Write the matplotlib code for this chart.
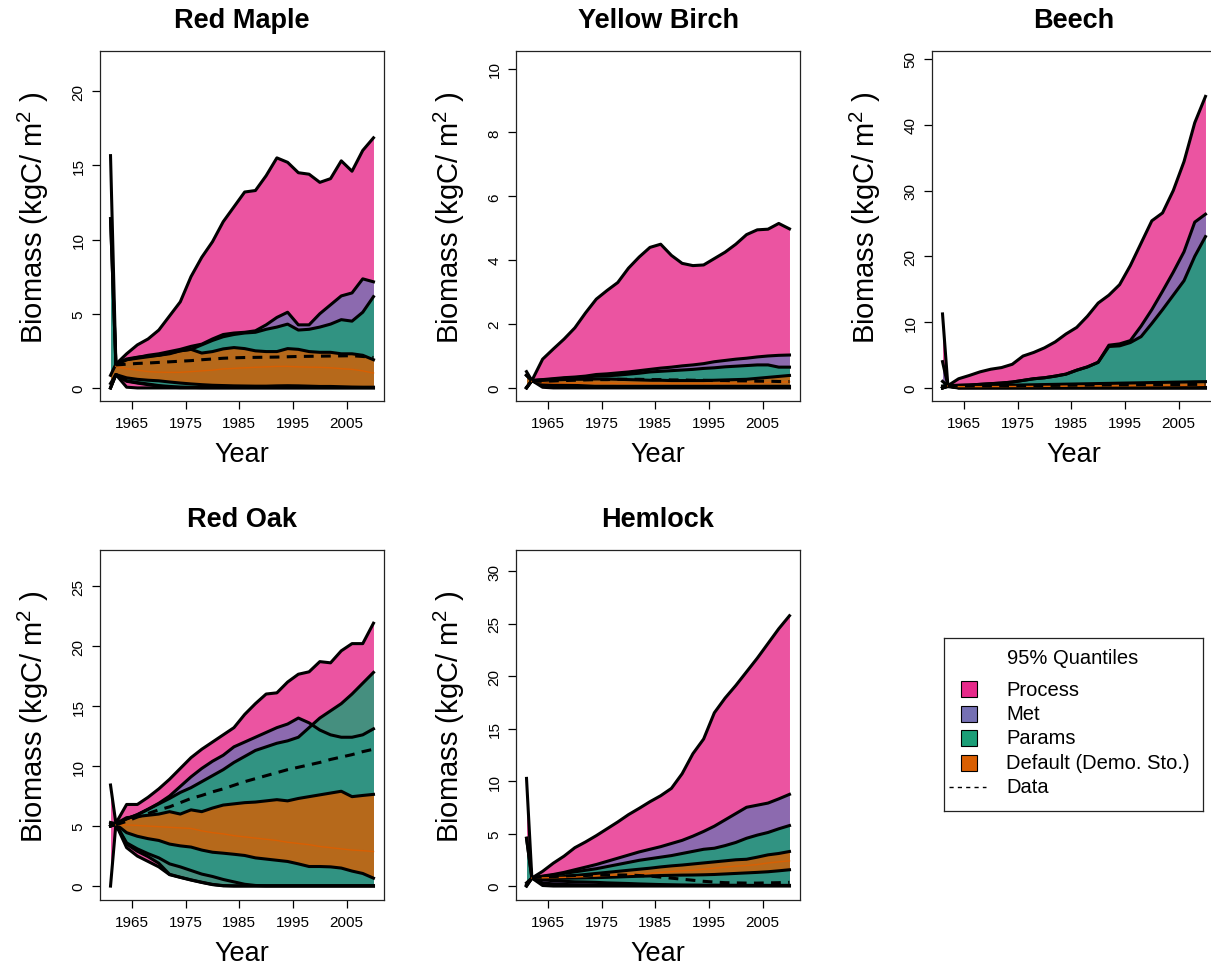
import numpy as np
import matplotlib
matplotlib.use("Agg")
import matplotlib.pyplot as plt
from matplotlib.patches import Rectangle

plt.rcParams['font.family'] = ['Liberation Sans', 'DejaVu Sans']

nan = np.nan

# sample years
years = [1961, 1962, 1964, 1966, 1968, 1970, 1972, 1974, 1976, 1978, 1980, 1982, 1984,
         1986, 1988, 1990, 1992, 1994, 1996, 1998, 2000, 2002, 2004, 2006, 2008, 2010]

# ---- Red Maple
rm_proc_hi = [15.65, 1.6, 2.3, 2.9, 3.3, 3.9, 4.85, 5.8, 7.5, 8.8, 9.85, 11.2, 12.2,
              13.2, 13.3, 14.3, 15.5, 15.2, 14.5, 14.4, 13.85, 14.1, 15.3, 14.6, 16.0, 16.85]
rm_proc_lo = [0.0, 0.9, 0.05, 0, 0, 0, 0, 0, 0, 0, 0, 0, 0,
              0, 0, 0, 0, 0, 0, 0, 0, 0, 0, 0, 0, 0]
rm_met_hi = [11.4, 1.6, 1.9, 2.05, 2.2, 2.3, 2.45, 2.6, 2.8, 2.95, 3.3, 3.6, 3.7,
             3.75, 3.85, 4.25, 4.75, 5.1, 4.25, 4.25, 5.0, 5.6, 6.2, 6.4, 7.35, 7.15]
rm_met_lo = [0.0, 0.9, 0.45, 0.33, 0.22, 0.12, 0.05, 0.02, 0.02, 0.02, 0.02, 0.02, 0.02,
             0.02, 0.02, 0.02, 0.02, 0.02, 0.02, 0.02, 0.02, 0.02, 0.02, 0.02, 0.02, 0.02]
rm_par_hi = [11.4, 1.6, 1.9, 2.0, 2.1, 2.2, 2.3, 2.5, 2.6, 2.9, 3.2, 3.45, 3.6,
             3.7, 3.75, 3.95, 4.1, 4.3, 3.9, 3.95, 4.1, 4.3, 4.6, 4.5, 5.1, 6.15]
rm_par_lo = [0.3, 0.9, 0.48, 0.36, 0.26, 0.16, 0.1, 0.06, 0.04, 0.02, 0.02, 0.02, 0.02,
             0.02, 0.02, 0.02, 0.02, 0.02, 0.02, 0.02, 0.02, 0.02, 0.02, 0.02, 0.02, 0.02]
rm_def_hi = [0.85, 1.6, 1.95, 2.07, 2.15, 2.2, 2.35, 2.5, 2.6, 2.35, 2.45, 2.63, 2.72,
             2.65, 2.5, 2.45, 2.45, 2.65, 2.6, 2.45, 2.4, 2.4, 2.3, 2.3, 2.2, 1.9]
rm_def_lo = [0.0, 0.9, 0.68, 0.58, 0.52, 0.48, 0.4, 0.33, 0.27, 0.22, 0.18, 0.16, 0.14,
             0.13, 0.12, 0.12, 0.14, 0.15, 0.14, 0.12, 0.1, 0.1, 0.08, 0.06, 0.05, 0.05]
rm_def_med = [nan, 1.45, 1.3, 1.2, 1.1, 1.06, 1.05, 1.05, 1.1, 1.15, 1.2, 1.28, 1.32,
              1.36, 1.39, 1.42, 1.45, 1.45, 1.42, 1.4, 1.39, 1.36, 1.3, 1.25, 1.15, 1.0]
rm_data = [nan, 1.55, 1.6, 1.65, 1.68, 1.72, 1.76, 1.8, 1.84, 1.9, 1.95, 2.0, 2.03,
           2.05, 2.06, 2.07, 2.08, 2.1, 2.12, 2.13, 2.14, 2.15, 2.16, 2.17, 2.12, 2.05]

# ---- Yellow Birch
yb_proc_hi = [0.51, 0.23, 0.9, 1.22, 1.53, 1.88, 2.35, 2.78, 3.05, 3.3, 3.75, 4.1, 4.4,
              4.5, 4.15, 3.9, 3.83, 3.85, 4.05, 4.25, 4.5, 4.8, 4.95, 4.97, 5.15, 4.98]
yb_proc_lo = [0.0, 0.23, 0.02, 0, 0, 0, 0, 0, 0, 0, 0, 0, 0,
              0, 0, 0, 0, 0, 0, 0, 0, 0, 0, 0, 0, 0]
yb_met_hi = [0.4, 0.23, 0.26, 0.29, 0.32, 0.34, 0.37, 0.42, 0.44, 0.47, 0.5, 0.54, 0.58,
             0.62, 0.65, 0.69, 0.72, 0.76, 0.82, 0.86, 0.9, 0.93, 0.97, 1.0, 1.02, 1.03]
yb_met_lo = [0.0, 0.23, 0.1, 0.05, 0.02, 0.02, 0.02, 0.02, 0.02, 0.02, 0.02, 0.02, 0.02,
             0.02, 0.02, 0.02, 0.02, 0.02, 0.02, 0.02, 0.02, 0.02, 0.02, 0.02, 0.02, 0.02]
yb_par_hi = [0.4, 0.23, 0.25, 0.27, 0.3, 0.32, 0.34, 0.37, 0.38, 0.4, 0.43, 0.46, 0.5,
             0.52, 0.54, 0.56, 0.58, 0.61, 0.63, 0.66, 0.68, 0.7, 0.72, 0.72, 0.65, 0.65]
yb_par_lo = [0.0, 0.23, 0.15, 0.12, 0.1, 0.08, 0.06, 0.04, 0.02, 0.02, 0.02, 0.02, 0.02,
             0.02, 0.02, 0.02, 0.02, 0.02, 0.02, 0.02, 0.02, 0.02, 0.02, 0.02, 0.02, 0.02]
yb_def_hi = [0.39, 0.23, 0.24, 0.25, 0.26, 0.27, 0.27, 0.28, 0.28, 0.27, 0.26, 0.25, 0.24,
             0.24, 0.23, 0.23, 0.23, 0.23, 0.24, 0.25, 0.26, 0.27, 0.3, 0.33, 0.36, 0.39]
yb_def_lo = [0.02, 0.23, 0.08, 0.05, 0.05, 0.05, 0.05, 0.05, 0.05, 0.05, 0.05, 0.05, 0.05,
             0.05, 0.05, 0.05, 0.05, 0.05, 0.05, 0.05, 0.05, 0.05, 0.05, 0.05, 0.05, 0.05]
yb_def_med = [nan, 0.2, 0.16, 0.15, 0.15, 0.15, 0.15, 0.15, 0.15, 0.14, 0.14, 0.14, 0.14,
              0.14, 0.14, 0.14, 0.14, 0.14, 0.14, 0.15, 0.15, 0.15, 0.16, 0.17, 0.18, 0.19]
yb_data = [nan, 0.2, 0.21, 0.22, 0.23, 0.24, 0.25, 0.26, 0.26, 0.27, 0.27, 0.27, 0.26,
           0.26, 0.25, 0.25, 0.24, 0.24, 0.23, 0.23, 0.22, 0.22, 0.21, 0.21, 0.2, 0.2]

# ---- Beech
be_proc_hi = [11.25, 0.35, 1.4, 1.9, 2.45, 2.85, 3.1, 3.6, 4.85, 5.4, 6.1, 7.0, 8.2,
              9.2, 10.9, 12.9, 14.1, 15.7, 18.6, 22.0, 25.4, 26.6, 30.0, 34.4, 40.3, 44.3]
be_proc_lo = [0.0, 0.2, 0, 0, 0, 0, 0, 0, 0, 0, 0, 0, 0,
              0, 0, 0, 0, 0, 0, 0, 0, 0, 0, 0, 0, 0]
be_met_hi = [4.0, 0.35, 0.4, 0.45, 0.55, 0.65, 0.75, 0.9, 1.15, 1.4, 1.55, 1.8, 2.1,
             2.7, 3.2, 3.9, 6.5, 6.7, 7.2, 9.4, 11.9, 14.7, 17.6, 20.7, 25.2, 26.4]
be_met_lo = [0.0, 0.3, 0.02, 0.02, 0.02, 0.02, 0.02, 0.02, 0.02, 0.02, 0.02, 0.02, 0.02,
             0.02, 0.02, 0.02, 0.02, 0.02, 0.02, 0.02, 0.02, 0.02, 0.02, 0.02, 0.02, 0.02]
be_par_hi = [1.0, 0.35, 0.4, 0.45, 0.55, 0.65, 0.75, 0.9, 1.15, 1.4, 1.55, 1.8, 2.1,
             2.7, 3.2, 3.9, 6.3, 6.4, 6.9, 7.8, 9.8, 11.9, 14.1, 16.3, 20.0, 23.0]
be_par_lo = [0.0, 0.3, 0.05, 0.05, 0.05, 0.05, 0.05, 0.05, 0.05, 0.05, 0.05, 0.05, 0.05,
             0.05, 0.05, 0.05, 0.05, 0.05, 0.05, 0.05, 0.05, 0.05, 0.05, 0.05, 0.05, 0.05]
be_def_hi = [0.3, 0.35, 0.33, 0.34, 0.36, 0.38, 0.4, 0.43, 0.46, 0.49, 0.52, 0.55, 0.58,
             0.61, 0.64, 0.67, 0.7, 0.73, 0.76, 0.79, 0.82, 0.85, 0.88, 0.91, 0.94, 0.96]
be_def_lo = [0.0, 0.3, 0.05, 0.05, 0.05, 0.05, 0.05, 0.05, 0.05, 0.05, 0.05, 0.05, 0.05,
             0.05, 0.05, 0.05, 0.05, 0.05, 0.05, 0.05, 0.05, 0.05, 0.05, 0.05, 0.05, 0.05]
be_def_med = [nan, 0.3, 0.2, 0.2, 0.2, 0.21, 0.21, 0.22, 0.22, 0.23, 0.24, 0.25, 0.26,
              0.27, 0.28, 0.29, 0.3, 0.31, 0.32, 0.33, 0.34, 0.35, 0.36, 0.37, 0.38, 0.4]
be_data = [nan, 0.3, 0.3, 0.31, 0.32, 0.32, 0.33, 0.34, 0.36, 0.37, 0.38, 0.39, 0.41,
           0.42, 0.43, 0.45, 0.46, 0.47, 0.48, 0.5, 0.5, 0.51, 0.52, 0.53, 0.54, 0.55]

# ---- Red Oak
ro_proc_hi = [8.42, 5.23, 6.8, 6.8, 7.4, 8.1, 8.9, 9.8, 10.7, 11.4, 12.0, 12.6, 13.2,
              14.3, 15.2, 16.0, 16.1, 17.0, 17.65, 17.85, 18.7, 18.6, 19.6, 20.2, 20.2, 21.9]
ro_proc_lo = [0.0, 5.15, 3.2, 2.5, 2.05, 1.6, 0.95, 0.72, 0.5, 0.3, 0.12, 0.02, 0,
              0, 0, 0, 0, 0, 0, 0, 0, 0, 0, 0, 0, 0]
ro_met_hi = [5.3, 5.2, 5.6, 5.95, 6.4, 6.9, 7.5, 8.3, 9.1, 9.8, 10.4, 10.9, 11.6,
             12.0, 12.4, 12.8, 13.2, 13.5, 14.0, 13.6, 13.0, 12.6, 12.4, 12.4, 12.6, 13.1]
ro_met_lo = [5.0, 5.15, 3.6, 3.1, 2.7, 2.35, 1.85, 1.6, 1.3, 1.0, 0.8, 0.55, 0.35,
             0.15, 0.05, 0.02, 0.02, 0.02, 0.02, 0.02, 0.02, 0.02, 0.02, 0.02, 0.02, 0.02]
ro_par_hi = [5.2, 5.2, 5.6, 5.95, 6.4, 6.85, 7.3, 7.8, 8.2, 8.7, 9.2, 9.7, 10.3,
             10.8, 11.3, 11.6, 11.9, 12.1, 12.4, 13.2, 14.0, 14.6, 15.2, 16.0, 16.9, 17.8]
ro_par_lo = [5.0, 5.15, 3.5, 2.9, 2.45, 1.9, 0.98, 0.74, 0.52, 0.32, 0.14, 0.04, 0.02,
             0.02, 0.02, 0.02, 0.02, 0.02, 0.02, 0.02, 0.02, 0.02, 0.02, 0.02, 0.02, 0.02]
ro_def_hi = [5.2, 5.2, 5.7, 5.8, 5.9, 6.0, 6.2, 6.0, 6.35, 6.2, 6.5, 6.75, 6.85,
             6.95, 7.0, 7.1, 7.2, 7.1, 7.3, 7.45, 7.6, 7.75, 7.9, 7.45, 7.55, 7.64]
ro_def_lo = [5.0, 5.15, 4.45, 4.15, 3.95, 3.8, 3.5, 3.35, 3.25, 3.0, 2.82, 2.74, 2.65,
             2.55, 2.35, 2.25, 2.15, 2.05, 1.85, 1.63, 1.63, 1.6, 1.5, 1.25, 1.05, 0.66]
ro_def_med = [nan, 5.1, 5.1, 5.05, 5.0, 4.95, 4.9, 4.85, 4.8, 4.6, 4.45, 4.35, 4.2,
              4.1, 4.0, 3.9, 3.8, 3.65, 3.55, 3.45, 3.3, 3.2, 3.1, 3.0, 2.95, 2.88]
ro_data = [nan, 5.1, 5.4, 5.75, 6.05, 6.35, 6.6, 6.95, 7.3, 7.55, 7.85, 8.1, 8.4,
           8.7, 8.95, 9.2, 9.45, 9.7, 9.9, 10.1, 10.3, 10.55, 10.75, 10.95, 11.2, 11.4]

# ---- Hemlock
he_proc_hi = [10.25, 0.76, 1.4, 2.18, 2.85, 3.65, 4.2, 4.8, 5.45, 6.1, 6.8, 7.4, 8.03,
              8.6, 9.3, 10.7, 12.6, 14.0, 16.5, 17.9, 19.1, 20.4, 21.7, 23.1, 24.5, 25.74]
he_proc_lo = [0.0, 0.76, 0.05, 0, 0, 0, 0, 0, 0, 0, 0, 0, 0,
              0, 0, 0, 0, 0, 0, 0, 0, 0, 0, 0, 0, 0]
he_met_hi = [4.55, 0.76, 0.95, 1.1, 1.3, 1.55, 1.8, 2.05, 2.35, 2.65, 2.95, 3.25, 3.5,
             3.75, 4.05, 4.35, 4.75, 5.2, 5.7, 6.3, 6.9, 7.5, 7.7, 7.9, 8.3, 8.73]
he_met_lo = [0.1, 0.76, 0.3, 0.2, 0.15, 0.12, 0.1, 0.08, 0.07, 0.06, 0.05, 0.05, 0.05,
             0.05, 0.05, 0.05, 0.05, 0.05, 0.05, 0.05, 0.05, 0.05, 0.05, 0.05, 0.05, 0.05]
he_par_hi = [4.55, 0.76, 0.9, 1.05, 1.2, 1.35, 1.5, 1.65, 1.85, 2.05, 2.25, 2.45, 2.6,
             2.75, 2.9, 3.1, 3.3, 3.5, 3.6, 3.85, 4.15, 4.55, 4.85, 5.1, 5.45, 5.76]
he_par_lo = [0.1, 0.76, 0.6, 0.5, 0.45, 0.4, 0.38, 0.35, 0.3, 0.27, 0.24, 0.2, 0.17,
             0.14, 0.12, 0.1, 0.09, 0.08, 0.08, 0.07, 0.07, 0.06, 0.06, 0.06, 0.06, 0.06]
he_def_hi = [0.3, 0.76, 0.8, 0.85, 0.9, 1.0, 1.1, 1.2, 1.3, 1.4, 1.5, 1.6, 1.7,
             1.82, 1.92, 2.0, 2.1, 2.2, 2.3, 2.4, 2.5, 2.55, 2.75, 2.97, 3.1, 3.29]
he_def_lo = [0.0, 0.76, 0.72, 0.72, 0.74, 0.76, 0.78, 0.8, 0.83, 0.86, 0.9, 0.93, 0.96,
             1.0, 1.02, 1.04, 1.05, 1.07, 1.1, 1.15, 1.2, 1.25, 1.3, 1.36, 1.45, 1.55]
he_def_med = [nan, 0.76, 0.78, 0.8, 0.82, 0.85, 0.9, 0.95, 1.0, 1.05, 1.1, 1.15, 1.2,
              1.3, 1.38, 1.45, 1.5, 1.6, 1.7, 1.8, 1.9, 1.95, 2.05, 2.2, 2.3, 2.4]
he_data = [nan, 0.8, 0.85, 0.9, 0.95, 1.0, 1.0, 1.05, 1.05, 1.05, 1.05, 1.0, 0.95,
           0.85, 0.75, 0.65, 0.55, 0.45, 0.38, 0.32, 0.3, 0.28, 0.28, 0.3, 0.32, 0.35]

species = ["Red Maple", "Yellow Birch", "Beech", "Red Oak", "Hemlock"]
y_ticks = [[0, 5, 10, 15, 20], [0, 2, 4, 6, 8, 10], [0, 10, 20, 30, 40, 50],
           [0, 5, 10, 15, 20, 25], [0, 5, 10, 15, 20, 25, 30]]
x_ticks = [1965, 1975, 1985, 1995, 2005]
legend_labels = ["Process", "Met", "Params", "Default (Demo. Sto.)"]

panels = {
    "Red Maple": [rm_proc_lo, rm_proc_hi, rm_met_lo, rm_met_hi, rm_par_lo, rm_par_hi,
                  rm_def_lo, rm_def_hi, rm_def_med, rm_data],
    "Yellow Birch": [yb_proc_lo, yb_proc_hi, yb_met_lo, yb_met_hi, yb_par_lo, yb_par_hi,
                     yb_def_lo, yb_def_hi, yb_def_med, yb_data],
    "Beech": [be_proc_lo, be_proc_hi, be_met_lo, be_met_hi, be_par_lo, be_par_hi,
              be_def_lo, be_def_hi, be_def_med, be_data],
    "Red Oak": [ro_proc_lo, ro_proc_hi, ro_met_lo, ro_met_hi, ro_par_lo, ro_par_hi,
                ro_def_lo, ro_def_hi, ro_def_med, ro_data],
    "Hemlock": [he_proc_lo, he_proc_hi, he_met_lo, he_met_hi, he_par_lo, he_par_hi,
                he_def_lo, he_def_hi, he_def_med, he_data],
}

# Dark2 colours, as in the original R figure
colors = ["#E7298A", "#7570B3", "#1B9E77", "#D95F02"]

# layout in pixels (figure is 1211 x 970, third column runs off the right edge)
W, H = 1211, 970
box_w, box_h = 284, 350
lefts = [100, 516, 932, 100, 516]
tops = [52, 52, 52, 551, 551]
ylims = [(-0.88, 22.7), (-0.41, 10.55), (-1.98, 51.2), (-1.16, 28.0), (-1.33, 32.0)]

fig = plt.figure(figsize=(W / 100, H / 100), dpi=100)

for i, name in enumerate(species):
    ax = fig.add_axes([lefts[i] / W, 1 - (tops[i] + box_h) / H, box_w / W, box_h / H])
    vals = panels[name]
    for k in range(4):
        lo = vals[2 * k]
        hi = vals[2 * k + 1]
        ax.fill_between(years, lo, hi, color=colors[k], alpha=0.8, lw=0)
        ax.plot(years, lo, color="black", lw=2.2, solid_joinstyle="round")
        ax.plot(years, hi, color="black", lw=2.2, solid_joinstyle="round")
    ax.plot(years, vals[8], color=colors[3], lw=1.0)
    ax.plot(years, vals[9], color="black", lw=2.2, dashes=(3.2, 2.4))

    ax.set_xlim(1959.04, 2011.96)
    ax.set_ylim(*ylims[i])
    ax.set_xticks(x_ticks)
    ax.set_yticks(y_ticks[i])
    ax.tick_params(length=5.5, width=0.9, labelsize=11, direction="out")
    ax.tick_params(axis="x", pad=5)
    ax.tick_params(axis="y", pad=5)
    for lab in ax.get_yticklabels():
        lab.set_rotation(90)
        lab.set_va("center")
    for sp in ax.spines.values():
        sp.set_linewidth(0.9)
        sp.set_color("#222222")

    ax.text(0.5, 1 + 31 / box_h, name, transform=ax.transAxes, ha="center", va="center",
            fontsize=19.5, fontweight="bold")
    ax.text(0.5, -53 / box_h, "Year", transform=ax.transAxes, ha="center", va="center",
            fontsize=19.5)
    ax.text(-67 / box_w, 0.5 + 9 / box_h, "Biomass (kgC/ m$\\mathregular{^{2}}$ )",
            transform=ax.transAxes, ha="center", va="center", rotation=90, fontsize=21)

# legend box, drawn by hand like R's legend()
lax = fig.add_axes([944 / W, 1 - 812 / H, 259 / W, 173 / H])
lax.set_xlim(0, 259)
lax.set_ylim(173, 0)
lax.set_xticks([])
lax.set_yticks([])
for sp in lax.spines.values():
    sp.set_linewidth(0.9)
    sp.set_color("#222222")
lax.text(129, 20, "95% Quantiles", ha="center", va="center", fontsize=14.5)
row_y = [51, 76, 100, 125, 149]
for k, lab in enumerate(legend_labels):
    lax.add_patch(Rectangle((17, row_y[k] - 8), 16, 16, facecolor=colors[k],
                            edgecolor="black", lw=0.8))
    lax.text(62, row_y[k], lab, ha="left", va="center", fontsize=14.5)
lax.plot([5, 42], [row_y[4], row_y[4]], color="black", lw=1.0, dashes=(3, 3))
lax.text(62, row_y[4], "Data", ha="left", va="center", fontsize=14.5)

fig.savefig("out.png", dpi=100)
